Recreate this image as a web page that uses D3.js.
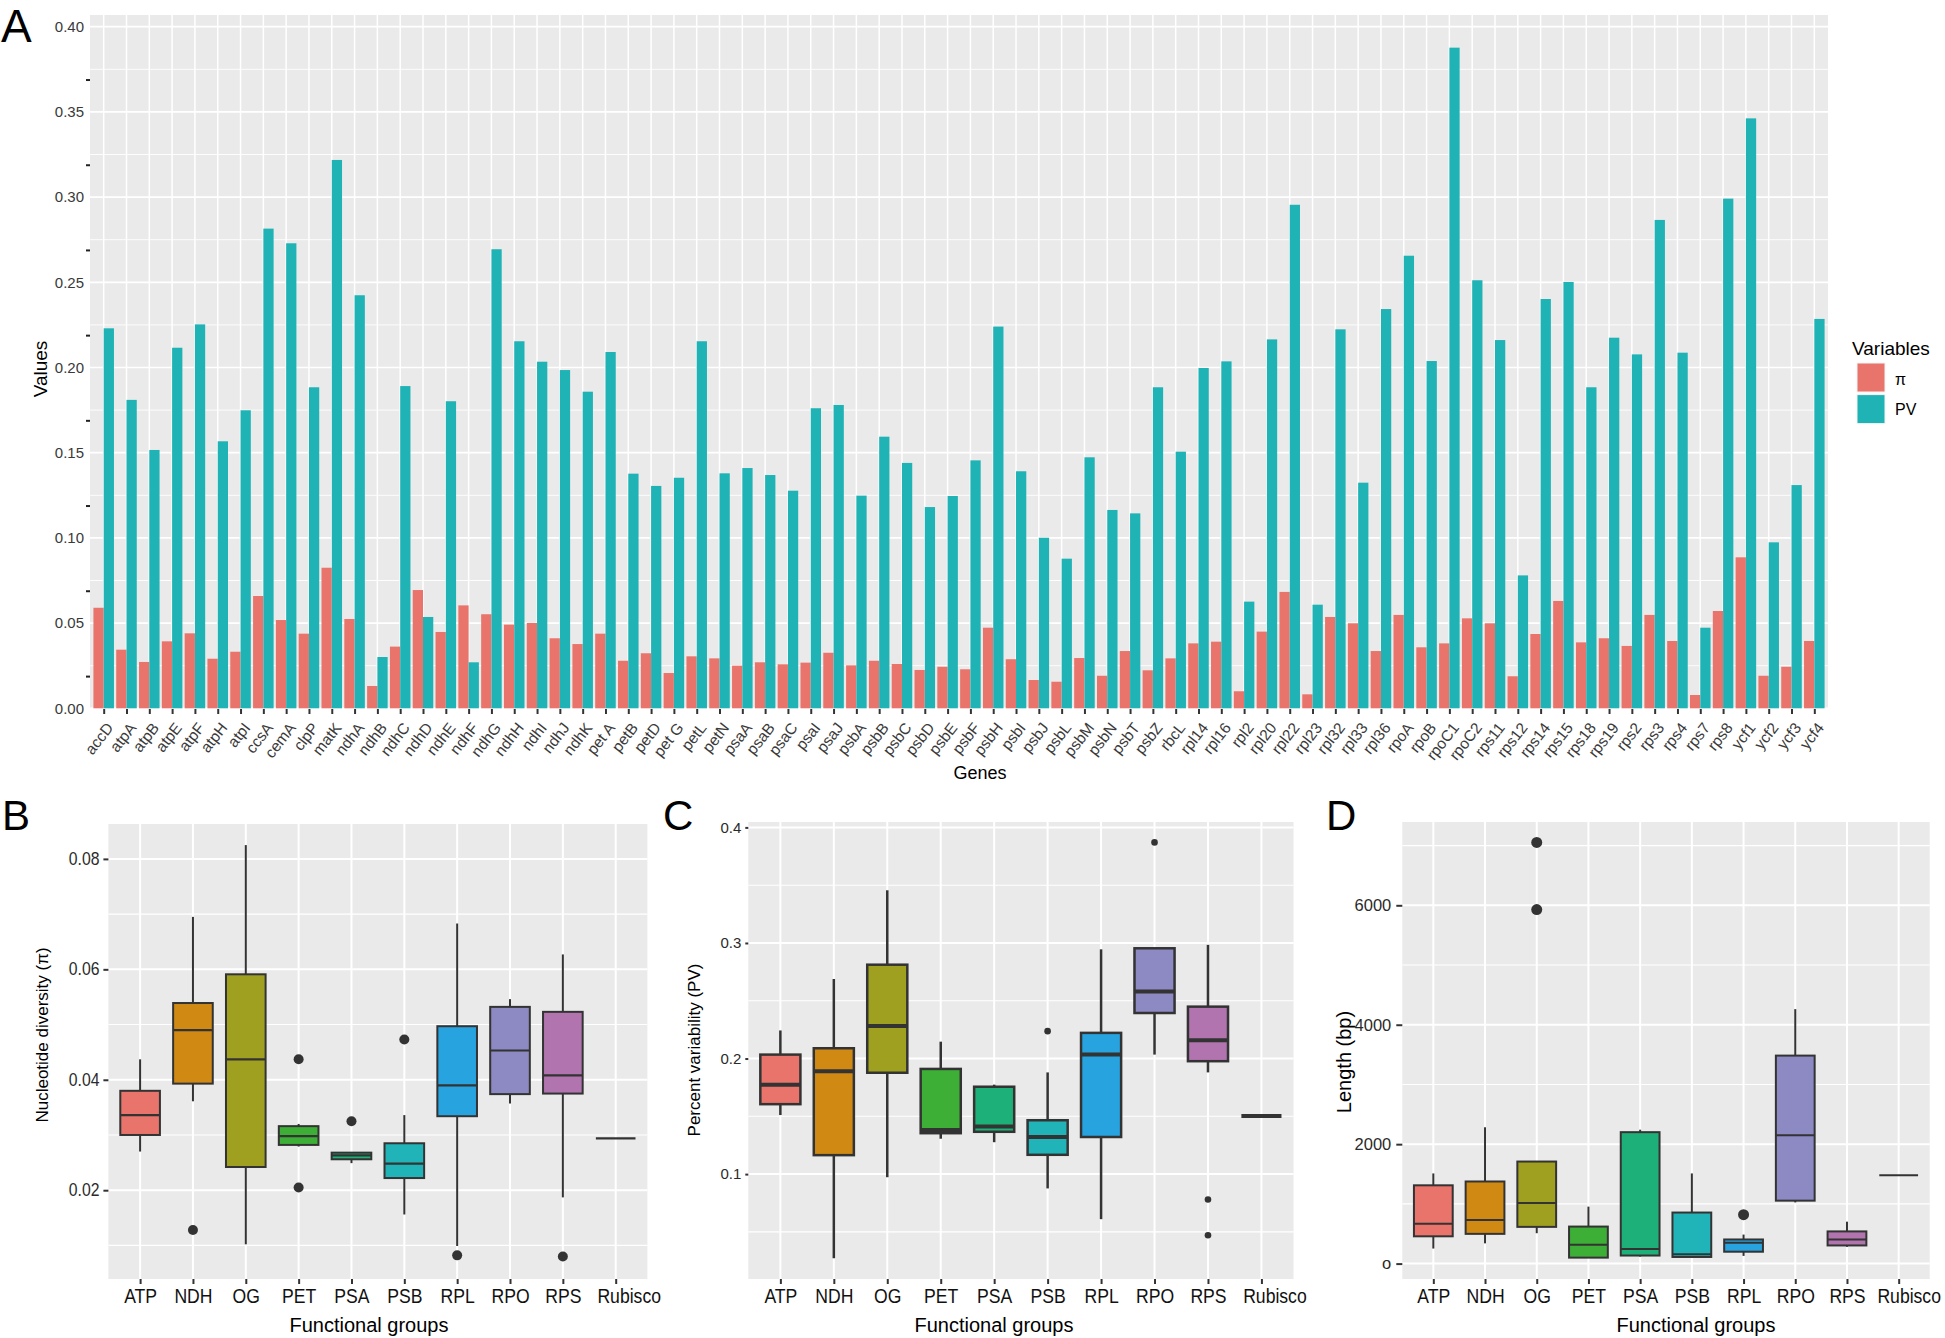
<!DOCTYPE html>
<html><head><meta charset="utf-8">
<script src="https://cdn.jsdelivr.net/npm/d3@7"></script>
<style>
body{margin:0;background:#fff;}
svg{display:block;font-family:"Liberation Sans",Arial,Helvetica,sans-serif;}
</style></head><body>
<svg id="chart" width="1945" height="1338"></svg>
<script>
// ---------- Panel A data ----------
const genes = ["accD","atpA","atpB","atpE","atpF","atpH","atpI","ccsA","cemA","clpP","matK","ndhA","ndhB","ndhC","ndhD","ndhE","ndhF","ndhG","ndhH","ndhI","ndhJ","ndhK","pet A","petB","petD","pet G","petL","petN","psaA","psaB","psaC","psaI","psaJ","psbA","psbB","psbC","psbD","psbE","psbF","psbH","psbI","psbJ","psbL","psbM","psbN","psbT","psbZ","rbcL","rpl14","rpl16","rpl2","rpl20","rpl22","rpl23","rpl32","rpl33","rpl36","rpoA","rpoB","rpoC1","rpoC2","rps11","rps12","rps14","rps15","rps18","rps19","rps2","rps3","rps4","rps7","rps8","ycf1","ycf2","ycf3","ycf4"];
const piValues = [0.0590,0.0344,0.0272,0.0393,0.0440,0.0291,0.0332,0.0659,0.0518,0.0438,0.0825,0.0524,0.0131,0.0362,0.0694,0.0448,0.0604,0.0552,0.0491,0.0501,0.0411,0.0377,0.0438,0.0279,0.0323,0.0207,0.0305,0.0293,0.0250,0.0270,0.0258,0.0268,0.0326,0.0252,0.0279,0.0260,0.0225,0.0244,0.0229,0.0473,0.0288,0.0166,0.0156,0.0295,0.0191,0.0336,0.0223,0.0293,0.0381,0.0391,0.0100,0.0450,0.0683,0.0082,0.0536,0.0499,0.0336,0.0548,0.0358,0.0381,0.0528,0.0499,0.0188,0.0436,0.0630,0.0387,0.0411,0.0366,0.0548,0.0395,0.0078,0.0571,0.0886,0.0191,0.0244,0.0395];
const pvValues = [0.2230,0.1810,0.1516,0.2116,0.2253,0.1567,0.1749,0.2815,0.2729,0.1884,0.3218,0.2424,0.0301,0.1891,0.0536,0.1802,0.0270,0.2694,0.2154,0.2034,0.1985,0.1858,0.2091,0.1377,0.1305,0.1353,0.2154,0.1379,0.1410,0.1369,0.1277,0.1761,0.1780,0.1248,0.1594,0.1440,0.1181,0.1246,0.1455,0.2240,0.1391,0.1001,0.0878,0.1473,0.1164,0.1144,0.1884,0.1506,0.1997,0.2036,0.0626,0.2165,0.2955,0.0608,0.2224,0.1324,0.2343,0.2656,0.2038,0.3877,0.2512,0.2161,0.0780,0.2402,0.2502,0.1884,0.2175,0.2077,0.2866,0.2087,0.0473,0.2991,0.3462,0.0974,0.1310,0.2285];
const yTicksA = [0,0.05,0.10,0.15,0.20,0.25,0.30,0.35,0.40];
const yMinorA = [0.025,0.075,0.125,0.175,0.225,0.275,0.325,0.375];
const yStrayTicksA = [0.0186,0.0687,0.1187,0.1687,0.2187,0.2687,0.3187,0.3687];
const seriesNames = ["\u03c0","PV"];
const seriesColors = ["#E9746B","#1FB3B6"];

// ---------- Panels B-D data ----------
const groups = ["ATP","NDH","OG","PET","PSA","PSB","RPL","RPO","RPS","Rubisco"];
const groupColors = ["#E8746B","#D08913","#A0A020","#3DAF36","#1DB078","#20B4B8","#27A3DF","#8C89C3","#B174AE","#E868A8"];

const piLow  = [0.0270,0.0361,0.0102,0.0279,0.0249,0.0156,0.0099,0.0357,0.0187,0.0294];
const piQ1   = [0.0300,0.0393,0.0242,0.0282,0.0256,0.0222,0.0334,0.0374,0.0375,0.0294];
const piMed  = [0.0336,0.0490,0.0437,0.0298,0.0263,0.0248,0.0390,0.0453,0.0408,0.0294];
const piQ3   = [0.0380,0.0539,0.0591,0.0316,0.0268,0.0285,0.0497,0.0532,0.0523,0.0294];
const piHigh = [0.0437,0.0695,0.0825,0.0320,0.0268,0.0336,0.0683,0.0546,0.0627,0.0294];
const piOutliers = [["NDH",0.0128],["PET",0.0437],["PET",0.0205],["PSA",0.0325],["PSB",0.0473],["RPL",0.0082],["RPS",0.0080]];
const yTicksB = [0.02,0.04,0.06,0.08];
const yTickLabelsB = ["0.02","0.04","0.06","0.08"];
const yMinorB = [0.01,0.03,0.05,0.07];

const pvLow  = [0.1511,0.0272,0.0973,0.1306,0.1276,0.0876,0.0610,0.2034,0.1880,0.1502];
const pvQ1   = [0.1605,0.1164,0.1877,0.1354,0.1366,0.1167,0.1321,0.2394,0.1977,0.1502];
const pvMed  = [0.1774,0.1889,0.2282,0.1381,0.1411,0.1321,0.2034,0.2579,0.2158,0.1502];
const pvQ3   = [0.2034,0.2089,0.2812,0.1910,0.1756,0.1466,0.2222,0.2954,0.2449,0.1502];
const pvHigh = [0.2243,0.2688,0.3456,0.2146,0.1774,0.1880,0.2945,0.2954,0.2984,0.1502];
const pvOutliers = [["PSB",0.2237],["RPO",0.3870],["RPS",0.0780],["RPS",0.0471]];
const yTicksC = [0.1,0.2,0.3,0.4];
const yTickLabelsC = ["0.1","0.2","0.3","0.4"];
const yMinorC = [0.05,0.15,0.25,0.35];

const lenLow  = [252,339,509,100,117,100,129,1024,281,1481];
const lenQ1   = [457,498,615,100,135,111,199,1054,304,1481];
const lenMed  = [667,732,1013,316,246,158,351,2148,404,1481];
const lenQ3   = [1311,1375,1709,620,2201,855,404,3483,539,1481];
const lenHigh = [1510,2283,1709,954,2242,1510,486,4261,702,1481];
const lenOutliers = [["OG",7053],["OG",5929],["RPL",819]];
const yTicksD = [0,2000,4000,6000];
const yTickLabelsD = ["o","2000","4000","6000"];
const yMinorD = [1000,3000,5000,7000];

// ---------- drawing ----------
const svg = d3.select("#chart");
const PANEL_BG = "#EAEAEA";
const FONT = "Liberation Sans, Arial, sans-serif";

// ===== Panel A =====
const A = {left:90, right:1828, top:15, bottom:709};
const xA = d3.scalePoint().domain(genes).range([A.left, A.right]).padding(0.6);
const stepA = xA.step();
const yA = d3.scaleLinear().domain([0,0.40]).range([708.3,26.7]);
const gA = svg.append("g");
gA.append("rect").attr("x",A.left).attr("y",A.top).attr("width",A.right-A.left).attr("height",A.bottom-A.top).attr("fill",PANEL_BG);
gA.selectAll("line.minor").data(yMinorA).join("line")
  .attr("x1",A.left).attr("x2",A.right).attr("y1",d=>yA(d)).attr("y2",d=>yA(d))
  .attr("stroke","#fff").attr("stroke-width",0.9);
gA.selectAll("line.major").data(yTicksA).join("line")
  .attr("x1",A.left).attr("x2",A.right).attr("y1",d=>yA(d)).attr("y2",d=>yA(d))
  .attr("stroke","#fff").attr("stroke-width",1.7);
gA.selectAll("line.vmajor").data(genes).join("line")
  .attr("x1",d=>xA(d)).attr("x2",d=>xA(d)).attr("y1",A.top).attr("y2",A.bottom)
  .attr("stroke","#fff").attr("stroke-width",1.5);

const barData = genes.map((g,i)=>({gene:g, vals:[piValues[i], pvValues[i]]}));
const bw = stepA*0.45;
barData.forEach(d=>{
  d.vals.forEach((v,j)=>{
    gA.append("rect")
      .attr("x", xA(d.gene) - bw + j*bw)
      .attr("y", yA(v))
      .attr("width", bw)
      .attr("height", yA(0)-yA(v))
      .attr("fill", seriesColors[j]);
  });
});

// y axis A
const axA = gA.append("g").attr("transform",`translate(${A.left},0)`)
  .call(d3.axisLeft(yA).tickValues(yTicksA).tickSize(0).tickPadding(6).tickFormat(d3.format(".2f")));
axA.select(".domain").remove();
axA.selectAll("text").attr("font-size",15).attr("fill","#3a3a3a").attr("font-family",FONT);
gA.selectAll("line.stray").data(yStrayTicksA).join("line")
  .attr("x1",A.left-4).attr("x2",A.left).attr("y1",d=>yA(d)).attr("y2",d=>yA(d))
  .attr("stroke","#222").attr("stroke-width",2);

// x axis A
const axXA = gA.append("g").attr("transform",`translate(0,${A.bottom})`)
  .call(d3.axisBottom(xA).tickSize(5));
axXA.select(".domain").remove();
axXA.selectAll(".tick line").attr("stroke","#333").attr("stroke-width",2);
axXA.selectAll("text")
  .attr("y",0).attr("x",0).attr("dy",null)
  .attr("transform","translate(10,19) rotate(-52)")
  .style("text-anchor","end")
  .attr("font-size",15.5).attr("fill","#3a3a3a")
  .attr("font-family",FONT);

gA.append("text").attr("x",980).attr("y",773).attr("dy","0.35em").attr("text-anchor","middle")
  .attr("font-size",18).attr("fill","#000").text("Genes");
gA.append("text").attr("transform","translate(40,369) rotate(-90)").attr("dy","0.35em").attr("text-anchor","middle")
  .attr("font-size",19).attr("fill","#000").text("Values");
svg.append("text").attr("x",1).attr("y",42).attr("font-size",46).attr("fill","#000").text("A");

// legend A
const leg = svg.append("g");
leg.append("text").attr("x",1852).attr("y",355).attr("font-size",19).attr("fill","#000").text("Variables");
seriesNames.forEach((n,i)=>{
  leg.append("rect").attr("x",1857).attr("y",363+i*31.6).attr("width",28).attr("height",29)
    .attr("fill",seriesColors[i]).attr("stroke","#f4f4f4").attr("stroke-width",1);
  leg.append("text").attr("x",1895).attr("y",379+i*30).attr("dy","0.35em").attr("font-size",16).attr("fill","#000").text(n);
});

// ===== box panels =====
function boxPanel(cfg){
  const g = svg.append("g");
  const x = d3.scalePoint().domain(groups).range([cfg.left,cfg.right]).padding(0.6);
  const step = x.step();
  const y = cfg.y;
  g.append("rect").attr("x",cfg.left).attr("y",cfg.top).attr("width",cfg.right-cfg.left).attr("height",cfg.bottom-cfg.top).attr("fill",PANEL_BG);
  g.selectAll("line.minor").data(cfg.minor.filter(v=>y(v)>cfg.top && y(v)<cfg.bottom)).join("line")
    .attr("x1",cfg.left).attr("x2",cfg.right).attr("y1",d=>y(d)).attr("y2",d=>y(d))
    .attr("stroke","#fff").attr("stroke-width",1.1);
  g.selectAll("line.major").data(cfg.ticks).join("line")
    .attr("x1",cfg.left).attr("x2",cfg.right).attr("y1",d=>y(d)).attr("y2",d=>y(d))
    .attr("stroke","#fff").attr("stroke-width",2);
  g.selectAll("line.vmajor").data(groups).join("line")
    .attr("x1",d=>x(d)).attr("x2",d=>x(d)).attr("y1",cfg.top).attr("y2",cfg.bottom)
    .attr("stroke","#fff").attr("stroke-width",2);
  const bwid = step*0.75;
  groups.forEach((grp,i)=>{
    const cx = x(grp);
    const lo=cfg.low[i], q1=cfg.q1[i], md=cfg.med[i], q3=cfg.q3[i], hi=cfg.high[i];
    g.append("line").attr("x1",cx).attr("x2",cx).attr("y1",y(hi)).attr("y2",y(q3))
      .attr("stroke","#333").attr("stroke-width",cfg.sw);
    g.append("line").attr("x1",cx).attr("x2",cx).attr("y1",y(q1)).attr("y2",y(lo))
      .attr("stroke","#333").attr("stroke-width",cfg.sw);
    if (q3 > q1) {
      g.append("rect").attr("x",cx-bwid/2).attr("y",y(q3)).attr("width",bwid).attr("height",y(q1)-y(q3))
        .attr("fill",groupColors[i]).attr("stroke","#333").attr("stroke-width",cfg.sw);
    }
    g.append("line").attr("x1",cx-bwid/2).attr("x2",cx+bwid/2).attr("y1",y(md)).attr("y2",y(md))
      .attr("stroke","#333").attr("stroke-width",cfg.msw);
  });
  g.selectAll("circle.out").data(cfg.outliers).join("circle")
    .attr("cx",d=>x(d[0])).attr("cy",d=>y(d[1])).attr("r",cfg.r).attr("fill","#333");
  // axes
  const ay = g.append("g").attr("transform",`translate(${cfg.left},0)`)
    .call(d3.axisLeft(y).tickValues(cfg.ticks).tickSize(cfg.tickLen).tickPadding(cfg.tickPad)
      .tickFormat((d,i)=>cfg.tickLabels[i]));
  ay.select(".domain").remove();
  ay.selectAll(".tick line").attr("stroke","#333").attr("stroke-width",2);
  ay.selectAll("text").attr("font-size",cfg.tickFont).attr("fill","#2a2a2a").attr("font-family",FONT)
    .attr("transform",`translate(${-cfg.tickLen-cfg.tickPad},0) scale(${cfg.tickScaleX},1) translate(${cfg.tickLen+cfg.tickPad},0)`);
  const ax = g.append("g").attr("transform",`translate(0,${cfg.bottom})`)
    .call(d3.axisBottom(x).tickSize(5).tickPadding(5));
  ax.select(".domain").remove();
  ax.selectAll(".tick line").attr("stroke","#333").attr("stroke-width",2);
  ax.selectAll("text").attr("font-size",20).attr("fill","#111").attr("font-family",FONT)
    .attr("transform",(d,i)=>`translate(${i===groups.length-1?cfg.lastShift:0},0) scale(0.88,1)`);
  g.append("text").attr("x",cfg.xTitle[0]).attr("y",cfg.xTitle[1]).attr("dy","0.35em").attr("text-anchor","middle")
    .attr("font-size",20).attr("fill","#000").text("Functional groups");
  g.append("text").attr("transform",`translate(${cfg.yTitle[0]},${cfg.yTitle[1]}) rotate(-90)`).attr("dy","0.35em")
    .attr("text-anchor","middle").attr("font-size",cfg.yTitleFont).attr("fill","#000").text(cfg.yTitleText);
  svg.append("text").attr("x",cfg.letter[0]).attr("y",cfg.letter[1]).attr("font-size",42).attr("fill","#000").text(cfg.letter[2]);
}

boxPanel({left:108.4,right:647.4,top:824,bottom:1279,
  y:d3.scaleLinear().domain([0.02,0.08]).range([1190.2,858.9]),
  ticks:yTicksB, tickLabels:yTickLabelsB, minor:yMinorB,
  low:piLow,q1:piQ1,med:piMed,q3:piQ3,high:piHigh,outliers:piOutliers,
  sw:2,msw:2.2,r:5,tickLen:5,tickPad:4,tickFont:17.5,tickScaleX:0.9,lastShift:13,
  xTitle:[369,1325], yTitle:[42,1035], yTitleFont:17, yTitleText:"Nucleotide diversity (\u03c0)", letter:[2,830,"B"]});

boxPanel({left:748.3,right:1293.5,top:822,bottom:1279,
  y:d3.scaleLinear().domain([0.1,0.4]).range([1174.1,827.4]),
  ticks:yTicksC, tickLabels:yTickLabelsC, minor:yMinorC,
  low:pvLow,q1:pvQ1,med:pvMed,q3:pvQ3,high:pvHigh,outliers:pvOutliers,
  sw:2.5,msw:4,r:3.3,tickLen:3,tickPad:4,tickFont:15,tickScaleX:1,lastShift:13,
  xTitle:[994,1325], yTitle:[694,1050], yTitleFont:17, yTitleText:"Percent variability (PV)", letter:[663,830,"C"]});

boxPanel({left:1402.3,right:1929.7,top:822,bottom:1279,
  y:d3.scaleLinear().domain([0,6000]).range([1263.6,905.3]),
  ticks:yTicksD, tickLabels:yTickLabelsD, minor:yMinorD,
  low:lenLow,q1:lenQ1,med:lenMed,q3:lenQ3,high:lenHigh,outliers:lenOutliers,
  sw:2,msw:2,r:5.5,tickLen:6,tickPad:5,tickFont:16.5,tickScaleX:1,lastShift:10,
  xTitle:[1696,1325], yTitle:[1344,1062], yTitleFont:20, yTitleText:"Length (bp)", letter:[1326,830,"D"]});
</script>
</body></html>
